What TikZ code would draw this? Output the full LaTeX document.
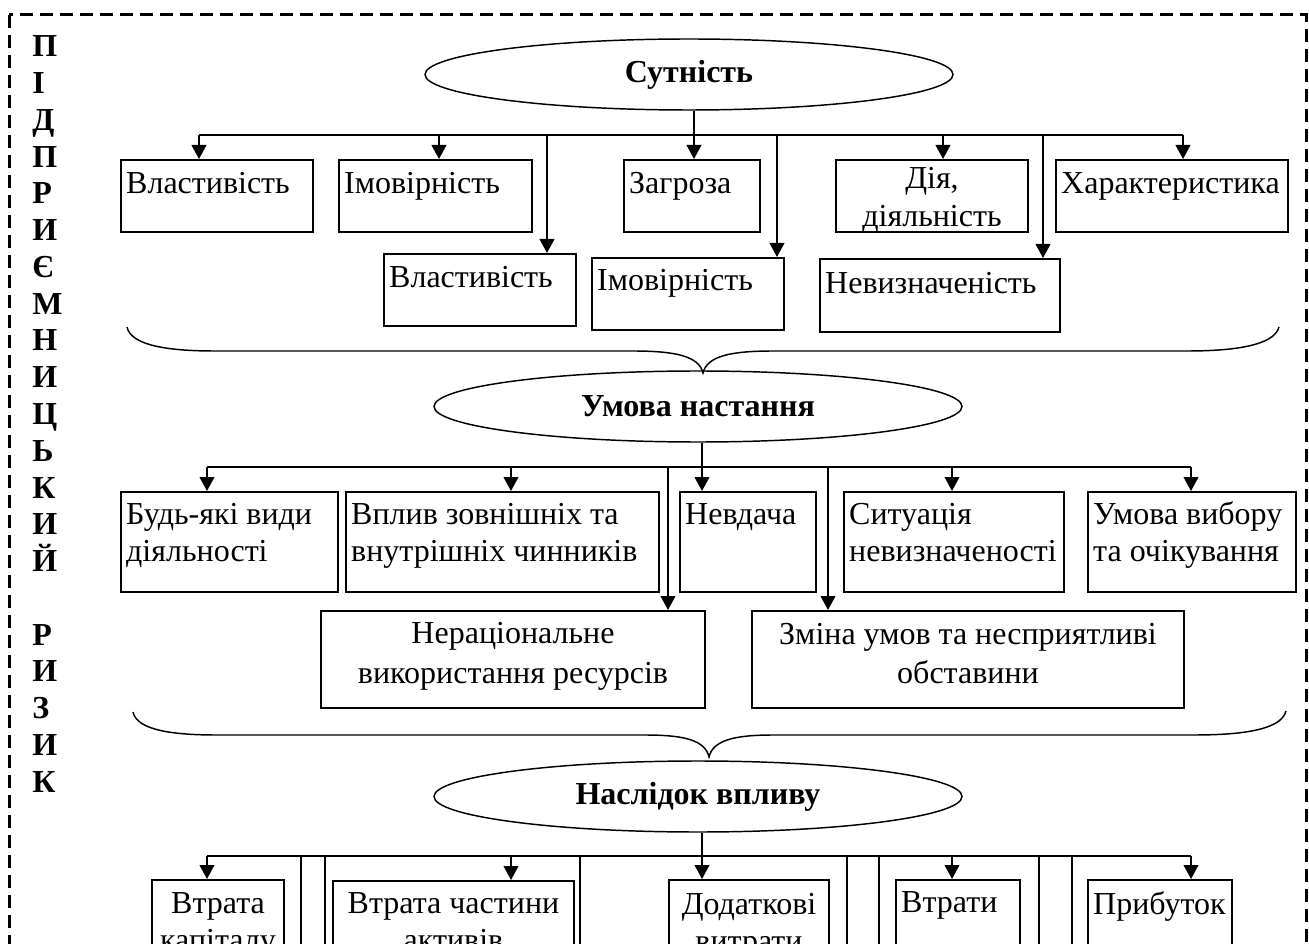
\documentclass[tikz,border=0pt]{standalone}
\usepackage{fontspec}
\setmainfont{Liberation Serif}
\usetikzlibrary{shapes.geometric,arrows.meta}
\newcommand\fs{\fontsize{24}{28}\selectfont}
\newcommand\LA{\raggedright\leftskip=3.9pt\relax}
\newcommand\CA{\centering}
% name, x1, y1, x2, y2, alignment, first baseline (px), text
\newcommand\tb[8]{%
  \node[box] (#1) at (#2,#3)
    {\parbox[t][\dimexpr 0.75pt*(#5-#3)\relax][t]{\dimexpr 0.75pt*(#4-#2)\relax}{#6\rule{0pt}{\dimexpr 0.75pt*#7\relax}#8}};}
\tikzset{
  box/.style={draw, line width=1.5pt, inner sep=0pt, anchor=north west, font=\fs},
  ell/.style={ellipse, draw, line width=1.1pt, inner sep=0pt, minimum width=396pt, minimum height=53.25pt, font=\bfseries\fs},
  arr/.style={line width=1.5pt, -{Triangle[length=10.5pt,width=11pt]}},
  bus/.style={line width=1.5pt},
  brace/.style={line width=1.1pt},
  frame/.style={line width=2.25pt, dash pattern=on 9.75pt off 5.25pt},
  letter/.style={anchor=base west, inner sep=0pt, font=\bfseries\fs}
}
\begin{document}
\begin{tikzpicture}[x=0.75pt, y=-0.75pt]
\useasboundingbox (0,0) rectangle (1309,944);
\clip (0,0) rectangle (1309,944);
\fill[white] (0,0) rectangle (1309,944);

% outer dashed frame
\draw[frame] (9,15) rectangle (1306,1000);

% vertical title
\foreach \c [count=\i] in {П,І,Д,П,Р,И,Є,М,Н,И,Ц,Ь,К,И,Й}
  \node[letter] (l\i) at (32, {57+36.75*(\i-1)}) {\c};
\foreach \c [count=\i] in {Р,И,З,И,К}
  \node[letter] (m\i) at (32, {57+36.75*(\i+15)}) {\c};

% ---------- level 1 ----------
\node[ell] (el1) at (689,74.5) {Сутність};
\tb{a1}{120}{159}{312}{231}{\LA}{34}{Властивість}
\tb{a2}{338}{159}{531}{231}{\LA}{34}{Імовірність}
\tb{a3}{623}{159}{759}{231}{\LA}{34}{Загроза}
\tb{a4}{835}{159}{1027}{231}{\CA}{29}{Дія,\\діяльність}
\tb{a5}{1055}{159}{1287}{231}{\LA}{34}{Характеристика}
\tb{b1}{383}{253}{575}{325}{\LA}{34}{Властивість}
\tb{b2}{591}{257}{783}{329}{\LA}{33}{Імовірність}
\tb{b3}{819}{258}{1059}{331}{\LA}{35}{Невизначеність}

\coordinate (p1) at (199,135);
\coordinate (p2) at (439,135);
\coordinate (p3) at (547,135);
\coordinate (p4) at (694,135);
\coordinate (p5) at (777,135);
\coordinate (p6) at (943,135);
\coordinate (p7) at (1043,135);
\coordinate (p8) at (1183,135);
\draw[bus] (p1) -- (p8);
\draw[arr] (el1.south -| p4) -- (p4 |- a3.north);
\draw[arr] (p1) -- (p1 |- a1.north);
\draw[arr] (p2) -- (p2 |- a2.north);
\draw[arr] (p3) -- (p3 |- b1.north);
\draw[arr] (p5) -- (p5 |- b2.north);
\draw[arr] (p6) -- (p6 |- a4.north);
\draw[arr] (p7) -- (p7 |- b3.north);
\draw[arr] (p8) -- (p8 |- a5.north);

\draw[brace] (127,327) .. controls (131,346) and (170,351) .. (215,351) -- (633,351)
  .. controls (675,351) and (699,356) .. (703,373)
  .. controls (707,356) and (731,351) .. (773,351) -- (1187,351)
  .. controls (1232,351) and (1274,346) .. (1279,327);

% ---------- level 2 ----------
\node[ell] (el2) at (698,406.5) {Умова настання};
\tb{c1}{120}{491}{337}{591}{\LA}{32}{\mbox{Будь-які види}\\діяльності}
\tb{c2}{345}{491}{658}{591}{\LA}{32}{\mbox{Вплив зовнішніх та}\\\mbox{внутрішніх чинників}}
\tb{c3}{679}{491}{815}{591}{\LA}{32}{Невдача}
\tb{c4}{843}{491}{1063}{591}{\LA}{32}{Ситуація\\невизначеності}
\tb{c5}{1087}{491}{1295}{591}{\LA}{32}{\mbox{Умова вибору}\\\mbox{та очікування}}
\tb{d1}{320}{610}{704}{707}{\CA\baselineskip=30pt}{32}{Нераціональне\\\mbox{використання ресурсів}}
\tb{d2}{751}{610}{1183}{707}{\CA\baselineskip=29.5pt}{33}{\mbox{Зміна умов та несприятливі}\\обставини}

\coordinate (q1) at (207,467);
\coordinate (q2) at (511,467);
\coordinate (q3) at (668,467);
\coordinate (q4) at (702,467);
\coordinate (q5) at (828,467);
\coordinate (q6) at (952,467);
\coordinate (q7) at (1191,467);
\draw[bus] (q1) -- (q7);
\draw[arr] (el2.south -| q4) -- (q4 |- c3.north);
\draw[arr] (q1) -- (q1 |- c1.north);
\draw[arr] (q2) -- (q2 |- c2.north);
\draw[arr] (q3) -- (q3 |- d1.north);
\draw[arr] (q5) -- (q5 |- d2.north);
\draw[arr] (q6) -- (q6 |- c4.north);
\draw[arr] (q7) -- (q7 |- c5.north);

\draw[brace] (133,712) .. controls (137,731) and (176,735) .. (217,735) -- (645,735)
  .. controls (684,735) and (705,740) .. (709,757)
  .. controls (713,740) and (735,735) .. (773,735) -- (1193,735)
  .. controls (1237,735) and (1281,731) .. (1286,711);

% ---------- level 3 ----------
\node[ell] (el3) at (698,796.5) {Наслідок впливу};
\tb{f1}{151}{879}{283}{990}{\CA}{33}{Втрата\\капіталу}
\tb{f2}{332}{880}{573}{990}{\CA}{32}{\mbox{Втрата частини}\\активів}
\tb{f3}{668}{879}{828}{990}{\CA}{34}{Додаткові\\витрати}
\tb{f4}{895}{879}{1019}{990}{\LA}{32}{Втрати}
\tb{f5}{1087}{879}{1231}{990}{\LA}{34}{Прибуток}

\coordinate (r1) at (207,856);
\coordinate (r2) at (301,856);
\coordinate (r3) at (325,856);
\coordinate (r4) at (511,856);
\coordinate (r5) at (580,856);
\coordinate (r6) at (702,856);
\coordinate (r7) at (847,856);
\coordinate (r8) at (879,856);
\coordinate (r9) at (952,856);
\coordinate (r10) at (1039,856);
\coordinate (r11) at (1072,856);
\coordinate (r12) at (1191,856);
\coordinate (low) at (0,970);
\draw[bus] (r1) -- (r12);
\draw[arr] (el3.south -| r6) -- (r6 |- f3.north);
\draw[arr] (r1) -- (r1 |- f1.north);
\draw[arr] (r4) -- (r4 |- f2.north);
\draw[arr] (r9) -- (r9 |- f4.north);
\draw[arr] (r12) -- (r12 |- f5.north);
\foreach \k in {r2,r3,r5,r7,r8,r10,r11}
  \draw[bus] (\k) -- (\k |- low);
\end{tikzpicture}
\end{document}
